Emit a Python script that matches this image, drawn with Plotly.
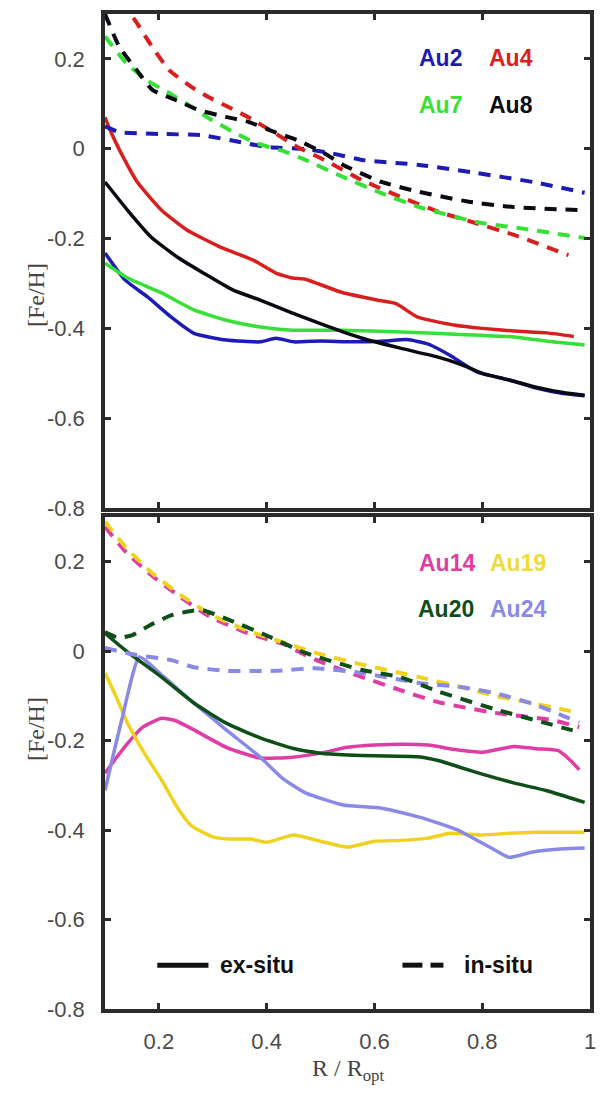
import plotly.graph_objects as go

# ---------------- data ----------------
# Top panel: ex-situ (solid)
au2_ex_r = [0.1, 0.137, 0.179, 0.223, 0.265, 0.325, 0.388, 0.417, 0.45, 0.5, 0.56, 0.62, 0.66, 0.7, 0.74, 0.79, 0.85, 0.9, 0.95, 0.99]
au2_ex_feh = [-0.232, -0.292, -0.33, -0.375, -0.411, -0.426, -0.43, -0.422, -0.43, -0.428, -0.43, -0.428, -0.425, -0.435, -0.46, -0.497, -0.515, -0.533, -0.545, -0.55]
au4_ex_r = [0.1, 0.11, 0.127, 0.161, 0.205, 0.252, 0.314, 0.375, 0.417, 0.448, 0.47, 0.54, 0.61, 0.64, 0.68, 0.75, 0.8, 0.86, 0.92, 0.97]
au4_ex_feh = [0.07, 0.04, -0.003, -0.076, -0.137, -0.181, -0.219, -0.248, -0.277, -0.288, -0.29, -0.32, -0.338, -0.345, -0.375, -0.393, -0.4, -0.406, -0.41, -0.418]
au7_ex_r = [0.1, 0.142, 0.205, 0.265, 0.325, 0.388, 0.448, 0.54, 0.65, 0.75, 0.86, 0.93, 0.99]
au7_ex_feh = [-0.255, -0.288, -0.321, -0.359, -0.382, -0.397, -0.404, -0.404, -0.408, -0.413, -0.419, -0.43, -0.437]
au8_ex_r = [0.1, 0.142, 0.186, 0.234, 0.283, 0.338, 0.388, 0.448, 0.507, 0.577, 0.648, 0.718, 0.76, 0.8, 0.85, 0.9, 0.95, 0.99]
au8_ex_feh = [-0.074, -0.137, -0.197, -0.241, -0.277, -0.315, -0.337, -0.366, -0.393, -0.422, -0.444, -0.464, -0.48, -0.5, -0.515, -0.531, -0.543, -0.549]

# Top panel: in-situ (dashed)
au2_in_r = [0.1, 0.127, 0.2, 0.28, 0.35, 0.4, 0.472, 0.52, 0.577, 0.683, 0.789, 0.894, 0.99]
au2_in_feh = [0.05, 0.037, 0.033, 0.03, 0.015, 0.004, -0.001, -0.01, -0.025, -0.036, -0.054, -0.074, -0.098]
au4_in_r = [0.13, 0.159, 0.183, 0.219, 0.261, 0.292, 0.329, 0.366, 0.415, 0.457, 0.507, 0.577, 0.648, 0.718, 0.789, 0.859, 0.96]
au4_in_feh = [0.33, 0.28, 0.235, 0.175, 0.137, 0.115, 0.093, 0.07, 0.035, 0.004, -0.025, -0.07, -0.107, -0.14, -0.166, -0.192, -0.237]
au7_in_r = [0.1, 0.14, 0.177, 0.219, 0.261, 0.298, 0.342, 0.379, 0.43, 0.472, 0.542, 0.613, 0.683, 0.789, 0.894, 0.99]
au7_in_feh = [0.25, 0.19, 0.153, 0.124, 0.093, 0.064, 0.035, 0.013, -0.005, -0.025, -0.063, -0.099, -0.13, -0.163, -0.181, -0.199]
au8_in_r = [0.1, 0.127, 0.159, 0.188, 0.232, 0.274, 0.324, 0.366, 0.415, 0.457, 0.507, 0.542, 0.613, 0.683, 0.775, 0.859, 0.99]
au8_in_feh = [0.3, 0.226, 0.175, 0.131, 0.108, 0.086, 0.071, 0.06, 0.037, 0.019, -0.01, -0.036, -0.074, -0.096, -0.118, -0.13, -0.137]

# Bottom panel: ex-situ (solid)
au14_ex_r = [0.1, 0.12, 0.142, 0.17, 0.205, 0.23, 0.265, 0.325, 0.388, 0.448, 0.5, 0.55, 0.6, 0.65, 0.7, 0.75, 0.8, 0.86, 0.9, 0.94, 0.96, 0.98]
au14_ex_feh = [-0.273, -0.24, -0.206, -0.17, -0.15, -0.155, -0.176, -0.215, -0.239, -0.237, -0.228, -0.215, -0.21, -0.208, -0.21, -0.22, -0.226, -0.213, -0.218, -0.222, -0.24, -0.265]
au19_ex_r = [0.1, 0.12, 0.142, 0.173, 0.205, 0.234, 0.26, 0.3, 0.33, 0.37, 0.4, 0.45, 0.5, 0.55, 0.6, 0.65, 0.7, 0.74, 0.8, 0.85, 0.9, 0.95, 0.99]
au19_ex_feh = [-0.049, -0.1, -0.161, -0.228, -0.288, -0.349, -0.39, -0.415, -0.42, -0.42, -0.427, -0.411, -0.425, -0.438, -0.425, -0.423, -0.418, -0.407, -0.411, -0.407, -0.405, -0.405, -0.405]
au20_ex_r = [0.1, 0.142, 0.205, 0.265, 0.325, 0.388, 0.448, 0.5, 0.55, 0.6, 0.68, 0.72, 0.76, 0.8, 0.86, 0.92, 0.99]
au20_ex_feh = [0.04, -0.002, -0.058, -0.116, -0.161, -0.194, -0.217, -0.228, -0.232, -0.234, -0.236, -0.245, -0.26, -0.275, -0.295, -0.312, -0.338]
au24_ex_r = [0.1, 0.131, 0.164, 0.205, 0.265, 0.325, 0.388, 0.43, 0.472, 0.542, 0.613, 0.683, 0.72, 0.755, 0.824, 0.85, 0.894, 0.95, 0.99]
au24_ex_feh = [-0.311, -0.154, -0.013, -0.053, -0.116, -0.176, -0.237, -0.285, -0.317, -0.344, -0.351, -0.371, -0.385, -0.4, -0.445, -0.461, -0.449, -0.442, -0.44]

# Bottom panel: in-situ (dashed)
au14_in_r = [0.1, 0.14, 0.19, 0.24, 0.296, 0.366, 0.435, 0.472, 0.507, 0.577, 0.648, 0.718, 0.824, 0.93, 0.98]
au14_in_feh = [0.278, 0.22, 0.166, 0.121, 0.076, 0.04, 0.014, -0.009, -0.027, -0.058, -0.087, -0.114, -0.138, -0.154, -0.17]
au19_in_r = [0.1, 0.14, 0.19, 0.24, 0.296, 0.366, 0.435, 0.5, 0.577, 0.683, 0.76, 0.824, 0.9, 0.98]
au19_in_feh = [0.29, 0.23, 0.172, 0.126, 0.082, 0.045, 0.018, -0.007, -0.03, -0.058, -0.08, -0.1, -0.118, -0.138]
au20_in_r = [0.1, 0.125, 0.151, 0.188, 0.225, 0.26, 0.28, 0.33, 0.4, 0.472, 0.577, 0.648, 0.718, 0.824, 0.9, 0.98]
au20_in_feh = [0.043, 0.03, 0.036, 0.061, 0.081, 0.09, 0.092, 0.07, 0.035, -0.004, -0.042, -0.058, -0.09, -0.13, -0.155, -0.181]
au24_in_r = [0.1, 0.16, 0.223, 0.265, 0.325, 0.417, 0.49, 0.577, 0.683, 0.76, 0.824, 0.9, 0.98]
au24_in_feh = [0.007, -0.009, -0.02, -0.036, -0.044, -0.044, -0.038, -0.049, -0.071, -0.08, -0.094, -0.12, -0.16]

x_tickvals = [0.2, 0.4, 0.6, 0.8, 1.0]
x_ticktext = ["0.2", "0.4", "0.6", "0.8", "1"]
y_tickvals = [0.2, 0.0, -0.2, -0.4, -0.6, -0.8]
y_ticktext = ["0.2", "0", "-0.2", "-0.4", "-0.6", "-0.8"]

top_names = ["Au2", "Au4", "Au7", "Au8"]
bottom_names = ["Au14", "Au19", "Au20", "Au24"]
colors = {
    "Au2": "#1c1cb4", "Au4": "#d91e1e", "Au7": "#36e036", "Au8": "#0a0a12",
    "Au14": "#e03ca5", "Au19": "#f0d21e", "Au20": "#0d4f17", "Au24": "#8a8ae6",
}
label_colors = dict(colors)
label_colors["Au19"] = "#ecdc3a"

series = [
    # (name, panel, kind, r, feh)
    ("Au2", "y", "ex", au2_ex_r, au2_ex_feh),
    ("Au4", "y", "ex", au4_ex_r, au4_ex_feh),
    ("Au7", "y", "ex", au7_ex_r, au7_ex_feh),
    ("Au8", "y", "ex", au8_ex_r, au8_ex_feh),
    ("Au2", "y", "in", au2_in_r, au2_in_feh),
    ("Au4", "y", "in", au4_in_r, au4_in_feh),
    ("Au7", "y", "in", au7_in_r, au7_in_feh),
    ("Au8", "y", "in", au8_in_r, au8_in_feh),
    ("Au14", "y2", "ex", au14_ex_r, au14_ex_feh),
    ("Au19", "y2", "ex", au19_ex_r, au19_ex_feh),
    ("Au24", "y2", "ex", au24_ex_r, au24_ex_feh),
    ("Au20", "y2", "ex", au20_ex_r, au20_ex_feh),
    ("Au14", "y2", "in", au14_in_r, au14_in_feh),
    ("Au19", "y2", "in", au19_in_r, au19_in_feh),
    ("Au24", "y2", "in", au24_in_r, au24_in_feh),
    ("Au20", "y2", "in", au20_in_r, au20_in_feh),
]

fig = go.Figure()
for name, yax, kind, r, feh in series:
    xax = "x" if yax == "y" else "x2"
    fig.add_trace(go.Scatter(
        x=r, y=feh, mode="lines", name=name, showlegend=False,
        xaxis=xax, yaxis=yax, hoverinfo="skip",
        line=dict(color=colors[name], width=3.5 if kind == "ex" else 4,
                  shape="spline", smoothing=0.5,
                  dash="solid" if kind == "ex" else "12px,9px"),
    ))

axis_common = dict(
    showline=True, linecolor="#2b2b2b", linewidth=3.5, mirror="ticks",
    ticks="inside", ticklen=6, tickwidth=2.5, tickcolor="#2b2b2b",
    showgrid=False, zeroline=False,
    tickfont=dict(family="Liberation Sans, Arial, sans-serif", size=22, color="#4a4a4a"),
)

fig.update_layout(
    width=603, height=1094,
    margin=dict(l=105, r=7, t=14, b=85),
    paper_bgcolor="white", plot_bgcolor="white",
    xaxis=dict(range=[0.1, 1.0], anchor="y", tickvals=x_tickvals, ticktext=x_ticktext,
               showticklabels=False, **axis_common),
    yaxis=dict(range=[-0.8, 0.3], domain=[0.5035, 1.0], anchor="x",
               tickvals=y_tickvals, ticktext=y_ticktext, ticklabelstandoff=12, **axis_common),
    xaxis2=dict(range=[0.1, 1.0], anchor="y2", tickvals=x_tickvals, ticktext=x_ticktext,
                ticklabelstandoff=10, **axis_common),
    yaxis2=dict(range=[-0.8, 0.3], domain=[0.0, 0.4945], anchor="x2",
                tickvals=y_tickvals, ticktext=y_ticktext, ticklabelstandoff=12, **axis_common),
)

label_font = "Liberation Sans, Arial, sans-serif"
annotations = []
label_pos_top = {"Au2": (0.723, 0.202), "Au4": (0.853, 0.202), "Au7": (0.723, 0.097), "Au8": (0.853, 0.097)}
label_pos_bot = {"Au14": (0.734, 0.197), "Au19": (0.866, 0.197), "Au20": (0.732, 0.094), "Au24": (0.866, 0.094)}
for name in top_names:
    x, y = label_pos_top[name]
    annotations.append(dict(x=x, y=y, xref="x", yref="y", text="<b>%s</b>" % name, showarrow=False,
                            font=dict(family=label_font, size=23, color=label_colors[name])))
for name in bottom_names:
    x, y = label_pos_bot[name]
    annotations.append(dict(x=x, y=y, xref="x2", yref="y2", text="<b>%s</b>" % name, showarrow=False,
                            font=dict(family=label_font, size=23, color=label_colors[name])))

annotations.append(dict(x=0.309, y=-0.702, xref="x2", yref="y2", text="<b>ex-situ</b>", showarrow=False,
                        xanchor="left", font=dict(family=label_font, size=23, color="#111111")))
annotations.append(dict(x=0.763, y=-0.702, xref="x2", yref="y2", text="<b>in-situ</b>", showarrow=False,
                        xanchor="left", font=dict(family=label_font, size=23, color="#111111")))

serif = "Liberation Serif, Times New Roman, serif"
annotations.append(dict(x=-0.173, y=(0.5035 + 1.0) / 2, xref="paper", yref="paper", text="[Fe/H]",
                        textangle=-90, showarrow=False, font=dict(family=serif, size=24, color="#444444")))
annotations.append(dict(x=-0.173, y=0.4945 / 2, xref="paper", yref="paper", text="[Fe/H]",
                        textangle=-90, showarrow=False, font=dict(family=serif, size=24, color="#444444")))
annotations.append(dict(x=0.5, y=-0.061, xref="paper", yref="paper", text="R / R<sub>opt</sub>",
                        showarrow=False, yanchor="middle",
                        font=dict(family=serif, size=24, color="#444444")))
fig.update_layout(annotations=annotations)

shapes = [
    dict(type="line", xref="x2", yref="y2", x0=0.197, x1=0.292, y0=-0.702, y1=-0.702,
         line=dict(color="#111111", width=5)),
    dict(type="line", xref="x2", yref="y2", x0=0.652, x1=0.689, y0=-0.702, y1=-0.702,
         line=dict(color="#111111", width=5)),
    dict(type="line", xref="x2", yref="y2", x0=0.704, x1=0.728, y0=-0.702, y1=-0.702,
         line=dict(color="#111111", width=5)),
]
fig.update_layout(shapes=shapes)

fig.write_html("out.html", config={"displayModeBar": False},
               post_script="document.body.style.margin='0';document.body.style.overflow='hidden';")
